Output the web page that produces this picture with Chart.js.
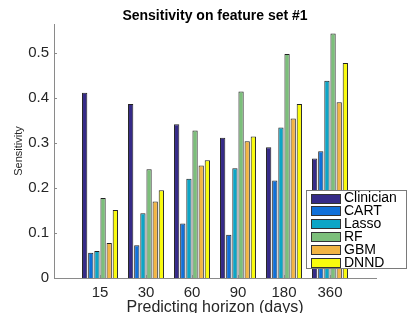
<!DOCTYPE html>
<html>
<head>
<meta charset="utf-8">
<script src="https://cdn.jsdelivr.net/npm/chart.js@4"></script>
<style>
html,body{margin:0;padding:0;background:#fff;}
canvas{display:block;}
</style>
</head>
<body>
<canvas id="c" width="415" height="313"></canvas>
<script>
const horizons = ['15', '30', '60', '90', '180', '360'];
const methods = ['Clinician', 'CART', 'Lasso', 'RF', 'GBM', 'DNND'];
const clinician = [0.412, 0.387, 0.342, 0.312, 0.291, 0.266];
const cart      = [0.056, 0.073, 0.121, 0.096, 0.217, 0.282];
const lasso     = [0.060, 0.144, 0.221, 0.244, 0.335, 0.439];
const rf        = [0.178, 0.242, 0.328, 0.415, 0.498, 0.544];
const gbm       = [0.078, 0.170, 0.250, 0.304, 0.355, 0.391];
const dnnd      = [0.151, 0.195, 0.262, 0.315, 0.387, 0.478];
const yTicks = [0, 0.1, 0.2, 0.3, 0.4, 0.5];
const chartTitle = 'Sensitivity on feature set #1';

const colors = ['#352a87', '#1170d8', '#0ca5c6', '#7cbf7b', '#f2b543', '#f9fb0e'];
const series = [clinician, cart, lasso, rf, gbm, dnnd];
const FONT = '"Liberation Sans", Arial, Helvetica, sans-serif';
const AXIS = '#8a8a8a';

const labels = [''].concat(horizons, ['']);
const datasets = series.map((vals, i) => ({
  label: methods[i],
  data: [null].concat(vals, [null]),
  backgroundColor: colors[i],
  borderColor: '#222222',
  borderWidth: 1,
  categoryPercentage: 0.8,
  barPercentage: 0.86
}));

const extras = {
  id: 'extras',
  afterDatasetsDraw(chart) {
    const ctx = chart.ctx;
    const x = chart.scales.x, y = chart.scales.y;
    const ca = chart.chartArea;
    ctx.save();
    // title centred over the axes
    ctx.fillStyle = '#000000';
    ctx.font = 'bold 14px ' + FONT;
    ctx.textAlign = 'center';
    ctx.textBaseline = 'middle';
    ctx.fillText(chartTitle, (ca.left + ca.right) / 2, 16);

    ctx.strokeStyle = AXIS;
    ctx.lineWidth = 1;
    // inward ticks on y axis
    yTicks.forEach(v => {
      const py = Math.round(y.getPixelForValue(v)) + 0.5;
      ctx.beginPath();
      ctx.moveTo(ca.left, py);
      ctx.lineTo(ca.left + 3, py);
      ctx.stroke();
    });
    // inward ticks on x axis
    horizons.forEach((h, i) => {
      const px = Math.round(x.getPixelForValue(i + 1)) + 0.5;
      ctx.beginPath();
      ctx.moveTo(px, ca.bottom);
      ctx.lineTo(px, ca.bottom - 3);
      ctx.stroke();
    });
    // legend box
    const bx = 306.5, by = 190.5, bw = 100, bh = 78;
    ctx.fillStyle = '#ffffff';
    ctx.fillRect(bx, by, bw, bh);
    ctx.strokeStyle = '#7a7a7a';
    ctx.strokeRect(bx, by, bw, bh);
    ctx.font = '14px ' + FONT;
    ctx.textBaseline = 'middle';
    ctx.textAlign = 'left';
    chart.data.datasets.forEach((ds, i) => {
      const cy = 198 + i * 12.9;
      ctx.fillStyle = ds.backgroundColor;
      ctx.fillRect(311.5, Math.round(cy - 4.5) + 0.5, 29, 9);
      ctx.strokeStyle = '#333333';
      ctx.strokeRect(311.5, Math.round(cy - 4.5) + 0.5, 29, 9);
      ctx.fillStyle = '#000000';
      ctx.fillText(ds.label, 344, cy + 0.5);
    });
    ctx.restore();
  }
};

new Chart(document.getElementById('c'), {
  type: 'bar',
  data: { labels: labels, datasets: datasets },
  options: {
    responsive: false,
    animation: false,
    devicePixelRatio: 1,
    layout: { padding: { left: 0, right: 39, top: 24, bottom: 0 } },
    plugins: {
      legend: { display: false },
      tooltip: { enabled: false },
      title: { display: false }
    },
    scales: {
      x: {
        type: 'category',
        offset: false,
        grid: { display: false, drawTicks: false },
        border: { display: true, color: AXIS, width: 1 },
        ticks: {
          color: '#262626',
          font: { family: FONT, size: 15 },
          padding: 6,
          autoSkip: false,
          maxRotation: 0
        },
        title: {
          display: true,
          text: 'Predicting horizon (days)',
          color: '#262626',
          font: { family: FONT, size: 16, lineHeight: 0.7 },
          padding: { top: 0, bottom: 0 }
        },
        afterFit(scale) { scale.height = 35; scale.paddingLeft = 0; scale.paddingRight = 0; }
      },
      y: {
        min: 0,
        max: 0.565,
        grid: { display: false, drawTicks: false },
        border: { display: true, color: AXIS, width: 1 },
        ticks: {
          stepSize: 0.1,
          includeBounds: false,
          color: '#262626',
          font: { family: FONT, size: 15 },
          padding: 5,
          callback: v => (Math.abs(v) < 1e-9 ? '0' : Number(v).toFixed(1))
        },
        title: {
          display: true,
          text: 'Sensitivity',
          color: '#262626',
          font: { family: FONT, size: 11 },
          padding: { top: 12, bottom: 0 }
        },
        afterFit(scale) { scale.width = 54; scale.paddingTop = 0; scale.paddingBottom = 0; }
      }
    }
  },
  plugins: [extras]
});
</script>
</body>
</html>
